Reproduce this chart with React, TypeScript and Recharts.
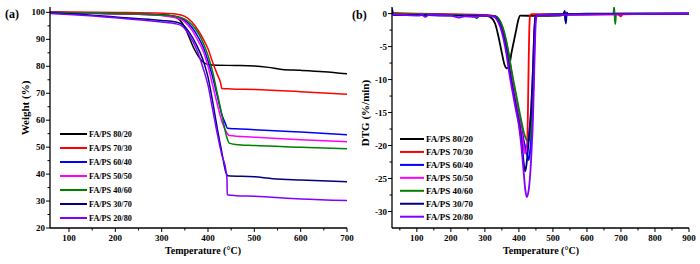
import React from 'react';
import { LineChart, Line, XAxis, YAxis } from 'recharts';

const FONT = "'Liberation Serif', 'Times New Roman', serif";

const SERIES_NAMES = ['FA/PS 80/20', 'FA/PS 70/30', 'FA/PS 60/40', 'FA/PS 50/50', 'FA/PS 40/60', 'FA/PS 30/70', 'FA/PS 20/80'];
const SERIES_COLORS = ['#000000', '#ff0000', '#0000ff', '#ff00ff', '#008000', '#000080', '#8000ff'];

// TGA: [temperature °C, weight %]
const TGA_80_20 = [[59, 100], [100, 99.8], [200, 99.5], [300, 99.1], [325, 98.6], [340, 97], [350, 94.5], [360, 90.5], [370, 86.5], [380, 83.5], [390, 81.5], [400, 80.7], [420, 80.4], [460, 80.3], [500, 80.1], [530, 79.6], [560, 78.8], [600, 78.5], [650, 78], [700, 77.2]];
const TGA_70_30 = [[59, 100.2], [200, 100], [300, 99.7], [330, 99.4], [350, 98.5], [365, 96.5], [380, 93], [390, 90], [400, 86.5], [410, 81.5], [420, 77], [427, 74], [430, 71.8], [450, 71.6], [500, 71.4], [600, 70.6], [700, 69.6]];
const TGA_60_40 = [[59, 100], [200, 99.6], [300, 99], [330, 98.5], [350, 97], [365, 94.5], [380, 90.5], [390, 87], [400, 82], [410, 76], [420, 69], [430, 62], [437, 59], [442, 57], [460, 56.8], [500, 56.5], [600, 55.6], [700, 54.6]];
const TGA_50_50 = [[59, 100], [200, 99.5], [300, 98.8], [330, 98], [350, 96.5], [365, 93.5], [380, 89], [390, 85.5], [400, 80], [410, 73], [420, 66], [430, 59.5], [440, 55.5], [446, 54.3], [500, 53.7], [600, 52.7], [700, 52]];
const TGA_40_60 = [[59, 100], [200, 99.6], [300, 99], [330, 98.6], [350, 97.5], [365, 95.5], [380, 92], [390, 88.5], [400, 84], [410, 78], [420, 70], [430, 62], [440, 54], [446, 51.5], [460, 51], [500, 50.6], [600, 50], [700, 49.4]];
const TGA_30_70 = [[59, 99.8], [100, 99.5], [200, 98.3], [300, 97], [330, 96.4], [345, 95.5], [360, 92.5], [375, 88], [390, 82], [400, 76], [410, 67], [420, 57], [430, 48], [438, 41], [443, 39.4], [500, 39], [540, 38.3], [600, 37.8], [700, 37.2]];
const TGA_20_80 = [[59, 99.6], [100, 99.2], [200, 98], [300, 96.4], [330, 95.8], [345, 94.8], [360, 91.5], [375, 86.5], [390, 79], [400, 73], [410, 64], [420, 55], [430, 47], [438, 42], [441, 38], [441.5, 32.3], [460, 32], [500, 31.8], [600, 30.8], [700, 30.2]];

// DTG: [temperature °C, %/min]
const DTG_80_20 = [[27, 0], [100, -0.1], [200, -0.2], [300, -0.3], [315, -0.5], [330, -1.5], [340, -3.5], [350, -6], [358, -7.8], [365, -8.3], [372, -7.8], [378, -6], [384, -4.5], [392, -2.5], [398, -1], [404, -0.3], [450, -0.35], [520, -0.3], [540, -0.1], [600, 0], [900, 0]];
const DTG_70_30 = [[27, 0.1], [100, 0], [200, -0.1], [300, -0.2], [330, -0.4], [341, -0.9], [351, -2], [361, -3.9], [369, -6], [378, -8.8], [387, -11.5], [397, -14.3], [406, -17], [414, -19.5], [420, -20.8], [424, -20], [426.5, -15], [428.5, -8], [430.5, -2.5], [433, -0.3], [437, -0.1], [690, -0.1], [700, -0.4], [705, -0.1], [900, 0]];
const DTG_60_40 = [[27, 0.8], [31, -0.2], [100, -0.1], [200, -0.2], [300, -0.3], [329, -0.4], [339, -0.9], [349, -2], [359, -3.9], [367, -6], [375, -8.8], [384, -11.5], [394, -14.2], [404, -16.5], [413, -19], [420, -20.5], [425, -21.5], [428.5, -22.2], [432, -21.3], [436, -19], [440, -15], [443, -10], [446, -4], [449, -0.8], [453, -0.2], [530, -0.1], [534, 0.3], [537, -1.2], [540, -0.1], [900, 0]];
const DTG_50_50 = [[27, 0], [100, -0.1], [200, -0.2], [300, -0.3], [330, -0.4], [340, -0.9], [350, -2], [360, -3.9], [368, -6], [377, -8.8], [386, -11.5], [396, -14.3], [405, -17], [412, -19.5], [418, -21.2], [423, -20.6], [428, -18.8], [434, -16], [439, -11.5], [443, -6], [446, -2], [449, -0.4], [453, -0.2], [900, 0]];
const DTG_40_60 = [[27, 0], [100, -0.1], [200, -0.2], [265, -0.3], [276, -0.7], [285, -0.3], [300, -0.3], [331, -0.4], [342, -0.9], [352, -2], [362, -3.9], [370, -6], [379, -8.8], [389, -11.5], [399, -14.2], [408, -16.5], [416, -18.3], [422, -19.1], [427, -19.3], [432, -19], [436, -17.5], [440, -13], [443, -8], [446, -3], [449, -0.6], [453, -0.2], [678, 0], [680, 1], [683, -1.6], [686, 0], [900, 0]];
const DTG_30_70 = [[27, 0.7], [31, -0.2], [100, -0.2], [200, -0.3], [300, -0.3], [327, -0.4], [337, -0.9], [347, -2], [357, -3.9], [365, -6], [373, -8.8], [382, -11.5], [392, -14.3], [402, -17], [410, -20.5], [415, -23], [418.5, -23.9], [422, -23], [426, -21], [430, -18.5], [436, -14.5], [441, -9], [445, -3], [449, -0.5], [453, -0.2], [532, -0.1], [535, 0.4], [538, -1.5], [541, 0.2], [544, -0.1], [900, 0]];
const DTG_20_80 = [[27, -0.1], [60, -0.2], [108, -0.3], [113, -0.1], [125, -0.5], [135, -0.2], [200, -0.3], [225, -0.6], [240, -0.4], [270, -0.5], [300, -0.3], [325, -0.4], [335, -0.9], [345, -2], [355, -3.9], [363, -6], [371, -8.8], [380, -11.5], [390, -14.3], [400, -17], [408, -20.5], [414, -24], [419, -26.8], [423.5, -27.8], [428, -27], [433, -24.5], [437, -21], [441, -16.5], [444, -11], [447, -5], [450, -1], [454, -0.2], [900, 0]];

const TGA_SERIES = [TGA_80_20, TGA_70_30, TGA_60_40, TGA_50_50, TGA_40_60, TGA_30_70, TGA_20_80];
const DTG_SERIES = [DTG_80_20, DTG_70_30, DTG_60_40, DTG_50_50, DTG_40_60, DTG_30_70, DTG_20_80];

const TGA_X_MAJOR = [100, 200, 300, 400, 500, 600, 700];
const TGA_X_MINOR = [150, 250, 350, 450, 550, 650];
const TGA_Y_MAJOR = [20, 30, 40, 50, 60, 70, 80, 90, 100];
const TGA_Y_MINOR = [25, 35, 45, 55, 65, 75, 85, 95];
const DTG_X_MAJOR = [100, 200, 300, 400, 500, 600, 700, 800, 900];
const DTG_X_MINOR = [50, 150, 250, 350, 450, 550, 650, 750, 850];
const DTG_Y_MAJOR = [0, -5, -10, -15, -20, -25, -30];
const DTG_Y_MINOR = [-2.5, -7.5, -12.5, -17.5, -22.5, -27.5];

const toPoints = (arr: number[][]) => arr.map(([t, v]) => ({ t, v }));

function BottomTick(props: any) {
  const { x, y, payload, majors } = props;
  const major = majors.includes(payload.value);
  return (
    <g>
      <line x1={x} x2={x} y1={y} y2={y + (major ? 4 : 2.5)} stroke="#000" strokeWidth={1} />
      {major && (
        <text x={x} y={y + 13} textAnchor="middle" fontSize={9} fontWeight="bold" fontFamily={FONT} fill="#000">
          {payload.value}
        </text>
      )}
    </g>
  );
}

function LeftTick(props: any) {
  const { x, y, payload, majors } = props;
  const major = majors.includes(payload.value);
  return (
    <g>
      <line x1={x} x2={x - (major ? 4 : 2.5)} y1={y} y2={y} stroke="#000" strokeWidth={1} />
      {major && (
        <text x={x - 5} y={y + 3} textAnchor="end" fontSize={9} fontWeight="bold" fontFamily={FONT} fill="#000">
          {payload.value}
        </text>
      )}
    </g>
  );
}

const axisLine = { stroke: '#000', strokeWidth: 1.3 };

function Panel({ series, width, xDomain, yDomain, xMajor, xMinor, yMajor, yMinor, yWidth, right, strokeWidth }: any) {
  return (
    <LineChart width={width} height={264} margin={{ top: 7, right, bottom: 0, left: 0 }}>
      <XAxis
        dataKey="t"
        type="number"
        domain={xDomain}
        allowDataOverflow
        ticks={[...xMajor, ...xMinor].sort((a, b) => a - b)}
        interval={0}
        height={36}
        tickSize={0}
        tickMargin={0}
        tickLine={false}
        axisLine={axisLine}
        tick={(p: any) => <BottomTick {...p} majors={xMajor} />}
      />
      <XAxis xAxisId="top" orientation="top" dataKey="t" type="number" domain={xDomain} allowDataOverflow height={0} tick={false} tickLine={false} axisLine={axisLine} />
      <YAxis
        type="number"
        domain={yDomain}
        allowDataOverflow
        ticks={[...yMajor, ...yMinor].sort((a, b) => a - b)}
        interval={0}
        width={yWidth}
        tickSize={0}
        tickMargin={0}
        tickLine={false}
        axisLine={axisLine}
        tick={(p: any) => <LeftTick {...p} majors={yMajor} />}
      />
      <YAxis yAxisId="right" orientation="right" type="number" domain={yDomain} allowDataOverflow width={0} tick={false} tickLine={false} axisLine={axisLine} />
      {series.map((s: number[][], i: number) => (
        <Line
          key={SERIES_NAMES[i]}
          data={toPoints(s)}
          dataKey="v"
          name={SERIES_NAMES[i]}
          type="monotone"
          stroke={SERIES_COLORS[i]}
          strokeWidth={strokeWidth}
          dot={false}
          isAnimationActive={false}
        />
      ))}
    </LineChart>
  );
}

function LegendRows({ x, y, step, lineLen, fontSize }: any) {
  return (
    <g>
      {SERIES_NAMES.map((name, i) => (
        <g key={name}>
          <line x1={x} x2={x + lineLen} y1={y + i * step} y2={y + i * step} stroke={SERIES_COLORS[i]} strokeWidth={2} />
          <text x={x + lineLen + 2} y={y + i * step + fontSize * 0.35} fontSize={fontSize} fontWeight="bold" fontFamily={FONT} fill="#000">
            {name}
          </text>
        </g>
      ))}
    </g>
  );
}

const textStyle = { fontFamily: FONT, fontWeight: 'bold' as const, fill: '#000' };

export default function App() {
  return (
    <div style={{ position: 'absolute', left: 0, top: 0, width: 700, height: 264, background: '#fff' }}>
      <div style={{ position: 'absolute', left: 0, top: 0 }}>
        <Panel
          series={TGA_SERIES}
          width={362}
          xDomain={[59, 700]}
          yDomain={[20, 102]}
          xMajor={TGA_X_MAJOR}
          xMinor={TGA_X_MINOR}
          yMajor={TGA_Y_MAJOR}
          yMinor={TGA_Y_MINOR}
          yWidth={50}
          right={15}
          strokeWidth={1.5}
        />
      </div>
      <div style={{ position: 'absolute', left: 350, top: 0 }}>
        <Panel
          series={DTG_SERIES}
          width={350}
          xDomain={[27, 900]}
          yDomain={[-32.5, 1]}
          xMajor={DTG_X_MAJOR}
          xMinor={DTG_X_MINOR}
          yMajor={DTG_Y_MAJOR}
          yMinor={DTG_Y_MINOR}
          yWidth={42}
          right={11}
          strokeWidth={1.8}
        />
      </div>
      <svg width={700} height={264} style={{ position: 'absolute', left: 0, top: 0, pointerEvents: 'none' }}>
        <text x={5} y={18} fontSize={12} {...textStyle}>(a)</text>
        <text x={352} y={19} fontSize={12} {...textStyle}>(b)</text>
        <text x={0} y={0} fontSize={11} textAnchor="middle" transform="translate(29,108) rotate(-90)" {...textStyle}>Weight (%)</text>
        <text x={0} y={0} fontSize={11} textAnchor="middle" transform="translate(369,113) rotate(-90)" {...textStyle}>DTG (%/min)</text>
        <text x={203} y={254} fontSize={10} textAnchor="middle" {...textStyle}>Temperature (°C)</text>
        <text x={541} y={254} fontSize={10} textAnchor="middle" {...textStyle}>Temperature (°C)</text>
        <LegendRows x={60} y={134} step={14} lineLen={27} fontSize={8.2} />
        <LegendRows x={400} y={139} step={12.95} lineLen={24} fontSize={9} />
      </svg>
    </div>
  );
}
